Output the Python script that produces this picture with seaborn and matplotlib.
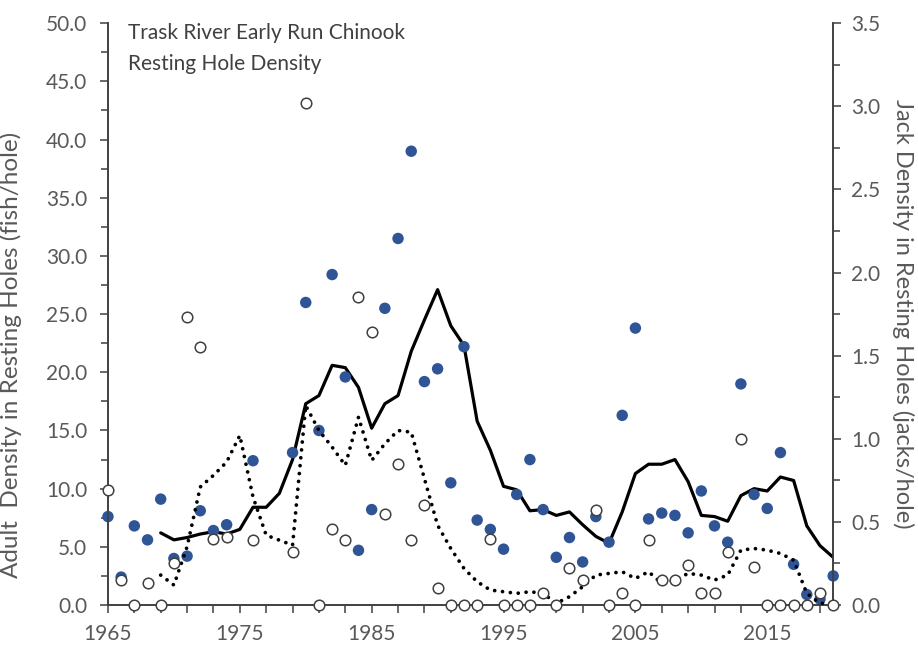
import numpy as np
import pandas as pd
import matplotlib
matplotlib.use("Agg")
import matplotlib.pyplot as plt
import seaborn as sns
from matplotlib.ticker import MultipleLocator, FormatStrFormatter

# yearly values
years = [1965, 1966, 1967, 1968, 1969, 1970, 1971, 1972, 1973, 1974, 1976, 1979,
         1980, 1981, 1982, 1983, 1984, 1985, 1986, 1987, 1988, 1989, 1990, 1991,
         1992, 1993, 1994, 1995, 1996, 1997, 1998, 1999, 2000, 2001, 2002, 2003,
         2004, 2005, 2006, 2007, 2008, 2009, 2010, 2011, 2012, 2013, 2014, 2015,
         2016, 2017, 2018, 2019, 2020]
adult = [7.6, 2.4, 6.8, 5.6, 9.1, 4.0, 4.2, 8.1, 6.4, 6.9, 12.4, 13.1,
         26.0, 15.0, 28.4, 19.6, 4.7, 8.2, 25.5, 31.5, 39.0, 19.2, 20.3, 10.5,
         22.2, 7.3, 6.5, 4.8, 9.5, 12.5, 8.2, 4.1, 5.8, 3.7, 7.6, 5.4,
         16.3, 23.8, 7.4, 7.9, 7.7, 6.2, 9.8, 6.8, 5.4, 19.0, 9.5, 8.3,
         13.1, 3.5, 0.9, 0.5, 2.5]
jacks = [0.69, 0.15, 0.0, 0.13, 0.0, 0.25, 1.73, 1.55, 0.40, 0.41, 0.39, 0.32,
         3.02, 0.0, 0.46, 0.39, 1.85, 1.64, 0.55, 0.85, 0.39, 0.60, 0.10, 0.0,
         0.0, 0.0, 0.40, 0.0, 0.0, 0.0, 0.07, 0.0, 0.22, 0.15, 0.57, 0.0,
         0.07, 0.0, 0.39, 0.15, 0.15, 0.24, 0.07, 0.07, 0.32, 1.00, 0.23, 0.0,
         0.0, 0.0, 0.0, 0.07, 0.0]

# running averages (lines)
avg_years = list(range(1969, 2021))
adult_avg = [6.2, 5.6, 5.8, 6.1, 6.3, 6.1, 6.5, 8.4, 8.4, 9.6, 12.5, 17.3,
             18.0, 20.6, 20.4, 18.7, 15.2, 17.3, 18.0, 21.8, 24.5, 27.1, 24.0, 22.3,
             15.8, 13.3, 10.2, 9.9, 8.1, 8.2, 7.7, 8.0, 6.9, 5.9, 5.3, 8.0,
             11.3, 12.1, 12.1, 12.5, 10.6, 7.7, 7.6, 7.2, 9.4, 10.0, 9.8, 11.0,
             10.7, 6.8, 5.1, 4.1]
jack_avg = [0.18, 0.12, 0.35, 0.71, 0.78, 0.86, 1.02, 0.65, 0.42, 0.39, 0.36, 1.20,
            1.05, 0.95, 0.84, 1.13, 0.87, 0.97, 1.05, 1.04, 0.76, 0.48, 0.34, 0.22,
            0.14, 0.09, 0.08, 0.07, 0.08, 0.07, 0.01, 0.05, 0.11, 0.18, 0.19, 0.20,
            0.16, 0.20, 0.13, 0.15, 0.19, 0.18, 0.15, 0.18, 0.33, 0.34, 0.33, 0.31,
            0.27, 0.07, 0.01, 0.01]

pts = pd.DataFrame({"year": years, "adult": adult, "jacks": jacks})
avg = pd.DataFrame({"year": avg_years, "adult": adult_avg, "jacks": jack_avg})

sns.set_theme(style="ticks")
plt.rcParams['font.family'] = ['Lato', 'DejaVu Sans']
grey = '#595959'
dark = '#404040'

fig = plt.figure(figsize=(9.18, 6.45), dpi=100)
ax = fig.add_axes([0.1176, 0.062, 0.790, 0.902])
ax2 = ax.twinx()

sns.lineplot(data=avg, x="year", y="adult", ax=ax, color='black', linewidth=2.3, zorder=3)
sns.scatterplot(data=pts, x="year", y="adult", ax=ax, color='#2F5597', s=68,
                edgecolor='none', zorder=4, clip_on=False)

ax2.plot(avg["year"], avg["jacks"], color='black', linewidth=2.7,
         linestyle=(0, (0.01, 2.1)), dash_capstyle='round', zorder=3)
sns.scatterplot(data=pts, x="year", y="jacks", ax=ax2, color='white', s=58,
                edgecolor=dark, linewidth=1.1, zorder=5, clip_on=False)

ax.set_xlim(1965, 2020)
ax.set_ylim(0, 50)
ax2.set_ylim(0, 3.5)

ax.set_xticks(range(1965, 2021, 2))
ax.set_xticklabels([str(y) if (y - 1965) % 10 == 0 else '' for y in range(1965, 2021, 2)])
ax.yaxis.set_major_locator(MultipleLocator(5))
ax.yaxis.set_minor_locator(MultipleLocator(2.5))
ax.yaxis.set_major_formatter(FormatStrFormatter('%.1f'))
ax2.yaxis.set_major_locator(MultipleLocator(0.5))
ax2.yaxis.set_minor_locator(MultipleLocator(0.25))
ax2.yaxis.set_major_formatter(FormatStrFormatter('%.1f'))

for a in (ax, ax2):
    a.spines['top'].set_visible(False)
    for s in a.spines.values():
        s.set_color(dark)
        s.set_linewidth(1.2)
    a.tick_params(which='both', colors=dark, labelcolor=grey, labelsize=15, width=1.1)
    a.tick_params(which='major', length=6)
    a.tick_params(which='minor', length=5)
    a.set_xlabel('')
ax.tick_params(axis='x', pad=8)
ax.tick_params(axis='y', pad=9)
ax2.tick_params(axis='y', pad=7)

ax.set_ylabel('Adult  Density in Resting Holes (fish/hole)', fontsize=17.5, color=grey)
ax.yaxis.set_label_coords(-0.118, 0.43)
ax2.set_ylabel('Jack Density in Resting Holes (jacks/hole)', fontsize=17, color=grey,
               rotation=270)
ax2.yaxis.set_label_coords(1.112, 0.50)

ax.text(0.0276, 1.0, 'Trask River Early Run Chinook', transform=ax.transAxes,
        fontsize=15, color=dark, va='top')
ax.text(0.0276, 0.947, 'Resting Hole Density', transform=ax.transAxes,
        fontsize=15, color=dark, va='top')

fig.savefig('out.png', dpi=100)
